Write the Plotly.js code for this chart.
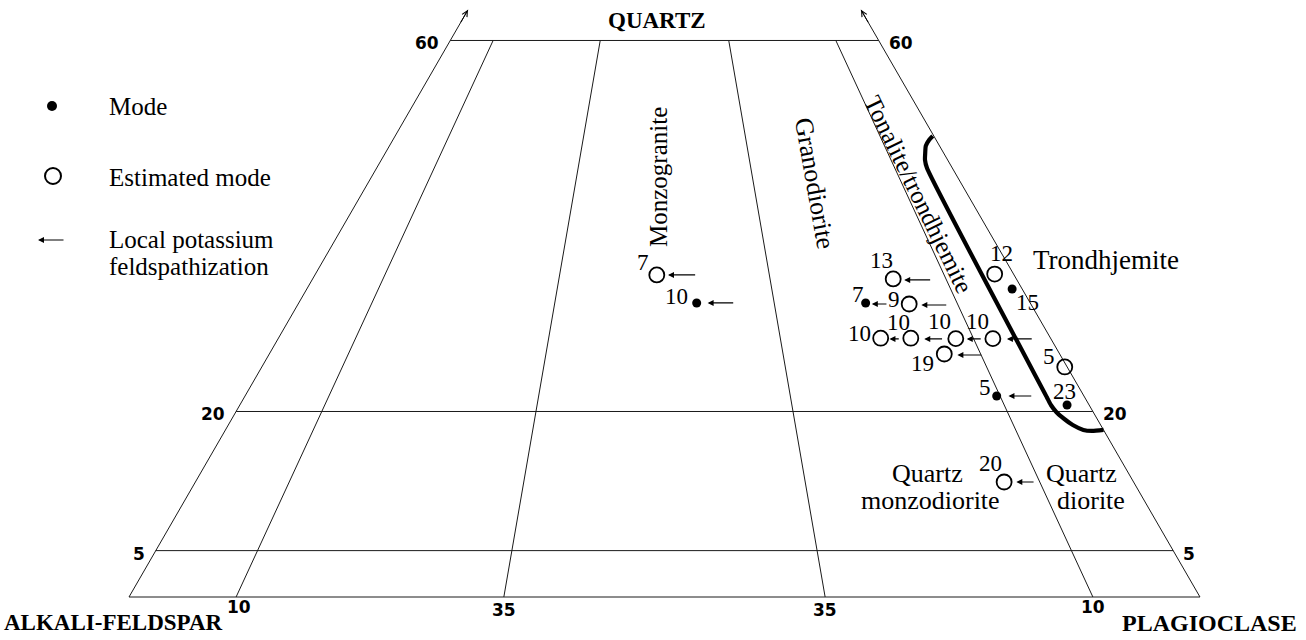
<!DOCTYPE html>
<html>
<head>
<meta charset="utf-8">
<script src="https://cdn.plot.ly/plotly-3.0.1.min.js"></script>
<style>html,body{margin:0;padding:0;background:#fff}#chart{width:1306px;height:640px}</style>
</head>
<body>
<div id="chart"></div>
<script>
// ---------- data (Q = quartz %, R = 100*P/(A+P)) ----------
const qGrid = [0, 5, 20, 60];
const rGrid = [10, 35, 65, 90];
const sideTopQ = 63.3;
const qTickVals = [5, 20, 60];
const qTickText = ['5', '20', '60'];
const rTickVals = [10, 35, 65, 90];
const rTickText = ['10', '35', '35', '10'];

const modeLabels = ['10', '7', '5', '15', '23'];
const modeQ = [31.7, 31.7, 21.67, 33.21, 20.7];
const modeR = [54.4, 77.5, 89.6, 98.6, 97.4];

const estLabels = ['7', '13', '9', '10', '10', '10', '10', '19', '12', '5', '20'];
const estQ = [34.72, 34.29, 31.59, 27.9, 27.9, 27.85, 27.85, 26.2, 34.82, 24.8, 12.4];
const estR = [48.9, 82.5, 83.4, 78.0, 81.9, 87.7, 92.5, 85.4, 97.3, 99.7, 86.2];

const arrowQ = [34.72, 31.7, 34.18, 31.59, 31.48, 27.82, 27.82, 27.82, 27.82, 26.09, 21.67, 12.4];
const arrowFromR = [54.6, 59.6, 87.9, 80.5, 88.6, 80.5, 86.1, 91.1, 97.7, 90.2, 93.9, 89.5];
const arrowToR = [50.5, 55.9, 84.0, 78.3, 85.0, 79.1, 83.6, 89.1, 94.3, 87.0, 91.0, 87.5];

const trondQ = [49.7, 49.27, 48.63, 47.87, 47.12, 46.25, 21.56, 20.7, 19.95, 19.19, 18.54, 18.01, 17.9, 18.01];
const trondR = [99.8, 98.7, 97.5, 96.7, 96.0, 95.6, 95.5, 95.5, 95.7, 96.2, 96.8, 97.7, 98.6, 100.0];

// ---------- label offsets (style, px) ----------
const modeOff = [[-20, -6], [-8, -8], [-12, -9], [15, 14], [-3, -14]];
const estOff = [[-14, -12], [-12, -18], [-15, -4], [-21, -5], [-12, -16], [-16, -17], [-15, -17], [-22, 10], [7, -21], [-16, -10], [-14, -18]];

// ---------- projection ----------
const SQ = Math.sqrt(3) / 2;
function xy(q, r) { const p = (100 - q) * r / 100; return [p + q / 2, q * SQ]; }
const W = 1306, H = 640;
const px = v => v / W, py = v => 1 - v / H;

const serif = 'Liberation Serif, Times New Roman, serif';
const sans = 'DejaVu Sans, Arial, sans-serif';

// grid
const gx = [], gy = [];
function seg(a, b) { gx.push(a[0], b[0], null); gy.push(a[1], b[1], null); }
qGrid.forEach(q => seg(xy(q, 0), xy(q, 100)));
rGrid.forEach(r => seg(xy(0, r), xy(60, r)));
seg(xy(0, 0), xy(sideTopQ, 0));
seg(xy(0, 100), xy(sideTopQ, 100));

const traces = [];
traces.push({x: gx, y: gy, mode: 'lines', line: {color: '#1a1a1a', width: 1}, hoverinfo: 'skip'});

const tc = trondQ.map((q, i) => xy(q, trondR[i]));
traces.push({x: tc.map(p => p[0]), y: tc.map(p => p[1]), mode: 'lines',
  line: {color: '#000', width: 4.2, shape: 'spline', smoothing: 0.6}, hoverinfo: 'skip'});

const mp = modeQ.map((q, i) => xy(q, modeR[i]));
traces.push({x: mp.map(p => p[0]), y: mp.map(p => p[1]), mode: 'markers',
  marker: {symbol: 'circle', size: 9, color: '#000'}, text: modeLabels, hoverinfo: 'text'});

const ep = estQ.map((q, i) => xy(q, estR[i]));
traces.push({x: ep.map(p => p[0]), y: ep.map(p => p[1]), mode: 'markers',
  marker: {symbol: 'circle-open', size: 15, color: '#000', line: {width: 1.8, color: '#000'}}, text: estLabels, hoverinfo: 'text'});

const ann = [];
// point labels
modeLabels.forEach((t, i) => ann.push({x: mp[i][0], y: mp[i][1], text: t, showarrow: false,
  xshift: modeOff[i][0], yshift: -modeOff[i][1], font: {family: serif, size: 23, color: '#000'}}));
estLabels.forEach((t, i) => ann.push({x: ep[i][0], y: ep[i][1], text: t, showarrow: false,
  xshift: estOff[i][0], yshift: -estOff[i][1], font: {family: serif, size: 23, color: '#000'}}));
// feldspathization arrows
arrowQ.forEach((q, i) => {
  const h = xy(q, arrowToR[i]), t = xy(q, arrowFromR[i]);
  ann.push({x: h[0], y: h[1], ax: t[0], ay: t[1], axref: 'x', ayref: 'y', xref: 'x', yref: 'y',
    text: '', showarrow: true, arrowhead: 2, arrowsize: 1, arrowwidth: 1.2, arrowcolor: '#000', standoff: 0});
});
// side arrowheads at top
[0, 100].forEach(r => {
  const h = xy(sideTopQ, r), t = xy(sideTopQ - 1.5, r);
  ann.push({x: h[0], y: h[1], ax: t[0], ay: t[1], axref: 'x', ayref: 'y', text: '', showarrow: true,
    arrowhead: 5, arrowsize: 1.1, arrowwidth: 1, arrowcolor: '#000', standoff: 0});
});
// tick labels
const tickFont = {family: sans, size: 17, color: '#000', weight: 'bold'};
qTickVals.forEach((q, i) => {
  const L = xy(q, 0), R = xy(q, 100);
  ann.push({x: L[0], y: L[1], text: '<b>' + qTickText[i] + '</b>', showarrow: false, xanchor: 'right', xshift: -9, yshift: -3, font: tickFont});
  ann.push({x: R[0], y: R[1], text: '<b>' + qTickText[i] + '</b>', showarrow: false, xanchor: 'left', xshift: 8, yshift: -3, font: tickFont});
});
rTickVals.forEach((r, i) => {
  const B = xy(0, r);
  ann.push({x: B[0], y: B[1], text: '<b>' + rTickText[i] + '</b>', showarrow: false, yanchor: 'top',
    xshift: i === 0 ? 3 : 0, yshift: (i === 0 || i === 3) ? 2 : -1, font: tickFont});
});
// text labels (paper coords)
function lab(text, x, y, size, opts) {
  ann.push(Object.assign({xref: 'paper', yref: 'paper', x: px(x), y: py(y), text: text, showarrow: false,
    xanchor: 'center', yanchor: 'middle', font: {family: serif, size: size, color: '#000'}}, opts || {}));
}
lab('<b>QUARTZ</b>', 657, 20, 23);
lab('<b>ALKALI-FELDSPAR</b>', 2, 622, 23, {xanchor: 'left'});
lab('<b>PLAGIOCLASE</b>', 1299, 623, 24, {xanchor: 'right'});
lab('Mode', 107, 106, 25, {xanchor: 'left'});
lab('Estimated mode', 107, 177, 25, {xanchor: 'left'});
lab('Local potassium', 107, 239, 25, {xanchor: 'left'});
lab('feldspathization', 107, 266, 25, {xanchor: 'left'});
lab('Monzogranite', 658, 177, 25, {textangle: -90});
lab('Granodiorite', 814, 183, 26, {textangle: 80});
lab('Tonalite/trondhjemite', 919, 194, 25, {textangle: 64});
lab('Trondhjemite', 1031, 260, 27, {xanchor: 'left'});
lab('Quartz', 927, 473, 26);
lab('monzodiorite', 931, 500, 26);
lab('Quartz', 1081, 473, 26);
lab('diorite', 1091, 500, 26);
// legend arrow
ann.push({xref: 'paper', yref: 'paper', x: px(38), y: py(240), ax: 27, ay: 0, text: '', showarrow: true,
  arrowhead: 2, arrowsize: 1, arrowwidth: 1.2, arrowcolor: '#000', standoff: 0});

const shapes = [
  {type: 'circle', xref: 'paper', yref: 'paper', x0: px(47), x1: px(57), y0: py(111), y1: py(101), fillcolor: '#000', line: {width: 0}},
  {type: 'circle', xref: 'paper', yref: 'paper', x0: px(45), x1: px(61), y0: py(184), y1: py(168), fillcolor: 'rgba(0,0,0,0)', line: {width: 2, color: '#000'}}
];

const layout = {
  width: W, height: H, margin: {l: 0, r: 0, t: 0, b: 0},
  paper_bgcolor: '#fff', plot_bgcolor: '#fff', showlegend: false,
  xaxis: {visible: false, range: [-12.045, 109.9], fixedrange: true},
  yaxis: {visible: false, range: [-4.015, 55.74], fixedrange: true},
  annotations: ann, shapes: shapes
};
Plotly.newPlot('chart', traces, layout, {displayModeBar: false, staticPlot: true});
</script>
</body>
</html>
